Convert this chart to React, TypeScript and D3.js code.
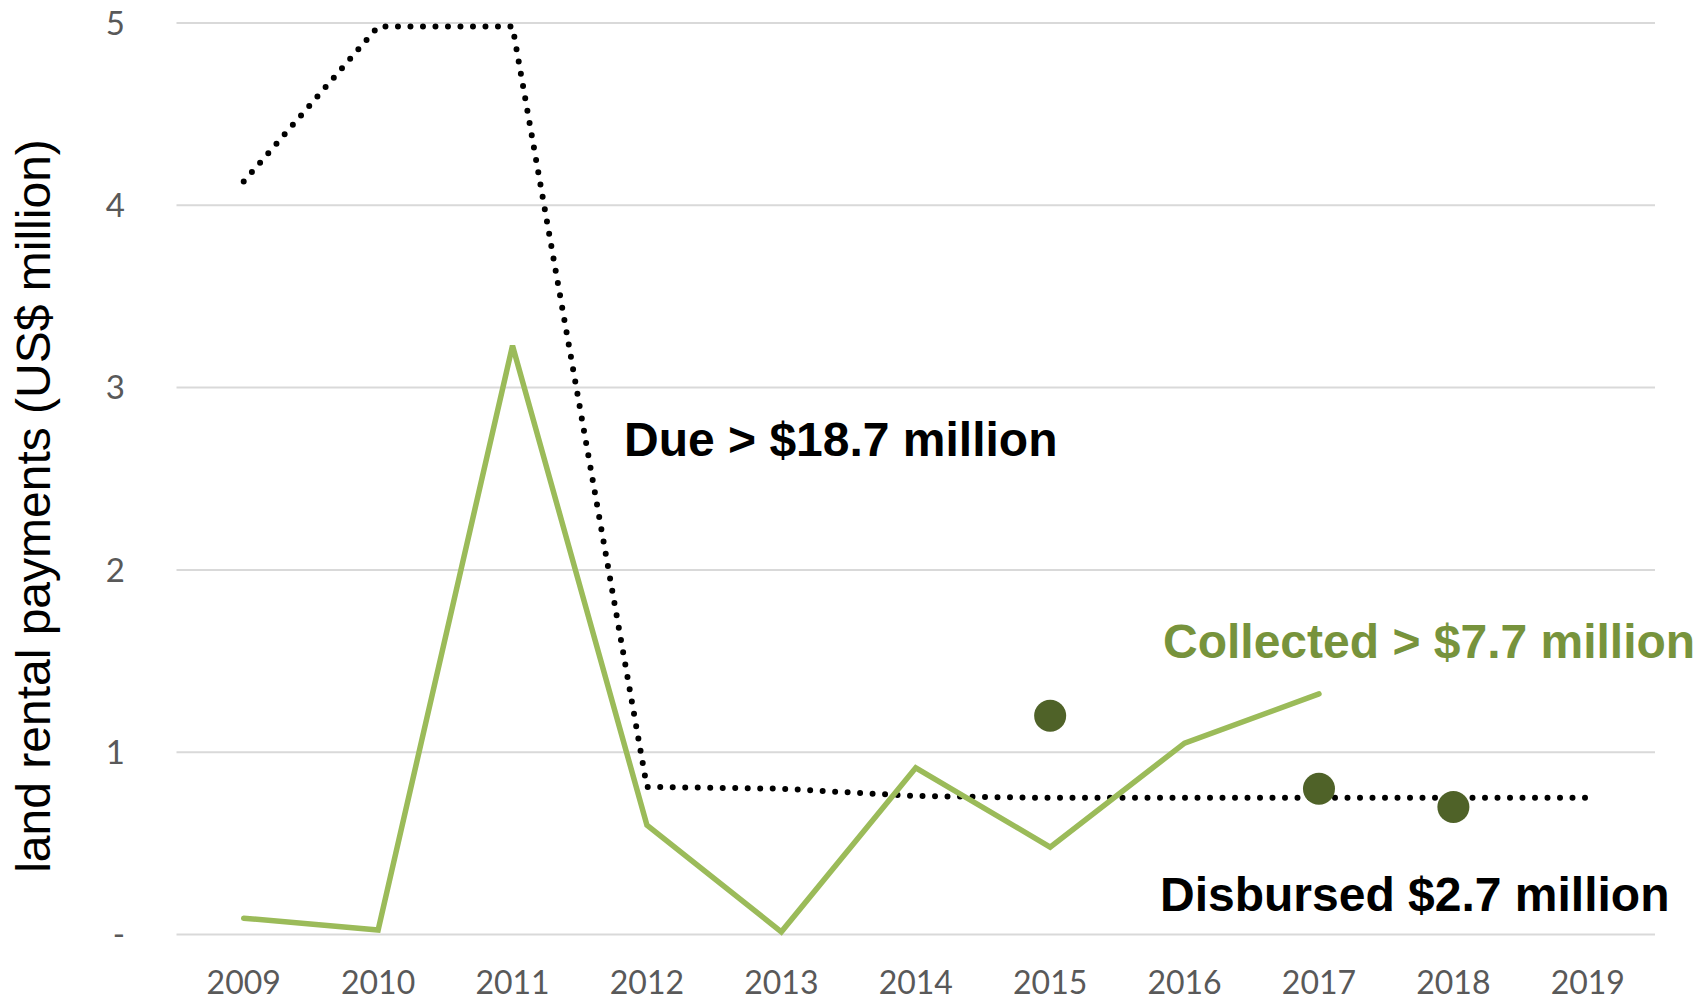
import React from "react";
import * as d3 from "d3";

const years = ["2009", "2010", "2011", "2012", "2013", "2014", "2015", "2016", "2017", "2018", "2019"];
const dueValues = [4.13, 4.98, 4.98, 0.81, 0.8, 0.76, 0.75, 0.75, 0.75, 0.75, 0.75];
const collectedYears = ["2009", "2010", "2011", "2012", "2013", "2014", "2015", "2016", "2017"];
const collectedValues = [0.09, 0.025, 3.23, 0.6, 0.015, 0.915, 0.48, 1.05, 1.32];
const disbursedYears = ["2015", "2017", "2018"];
const disbursedValues = [1.2, 0.8, 0.7];
const yTicks = [0, 1, 2, 3, 4, 5];
const yTickLabels = ["-", "1", "2", "3", "4", "5"];

const W = 1708;
const H = 1001;

export default function App() {
  const x = d3.scaleBand<string>().domain(years).range([176.5, 1655]);
  const cx = (c: string) => (x(c) as number) + x.bandwidth() / 2;
  const y = d3.scaleLinear().domain([0, 5]).range([934.6, 22.9]);

  const dueLine = d3
    .line<number>()
    .x((_, i) => cx(years[i]))
    .y((d) => y(d))(dueValues) as string;
  const collLine = d3
    .line<number>()
    .x((_, i) => cx(collectedYears[i]))
    .y((d) => y(d))(collectedValues) as string;

  return (
    <svg
      width={W}
      height={H}
      style={{ position: "absolute", left: 0, top: 0, background: "#fff" }}
    >
      {yTicks.map((t) => (
        <line
          key={t}
          x1={176.5}
          x2={1655}
          y1={y(t)}
          y2={y(t)}
          stroke="#d9d9d9"
          strokeWidth={2}
        />
      ))}
      {yTicks.map((t, i) => (
        <text
          key={"yl" + t}
          x={125}
          y={y(t)}
          dy="0.36em"
          textAnchor="end"
          fontFamily="Lato"
          fontSize={33}
          fill="#595959"
        >
          {yTickLabels[i]}
        </text>
      ))}
      {years.map((c) => (
        <text
          key={"xl" + c}
          x={cx(c)}
          y={994}
          textAnchor="middle"
          fontFamily="Lato"
          fontSize={32}
          fill="#595959"
        >
          {c}
        </text>
      ))}
      <text
        transform="translate(50,506) rotate(-90)"
        textAnchor="middle"
        fontFamily="Liberation Sans, Arial"
        fontSize={48}
        fill="#000"
      >
        land rental payments (US$ million)
      </text>
      <path
        d={dueLine}
        fill="none"
        stroke="#000"
        strokeWidth={6}
        strokeDasharray="0 12.5"
        strokeLinecap="round"
      />
      <path
        d={collLine}
        fill="none"
        stroke="#9bbb59"
        strokeWidth={5.5}
        strokeLinejoin="miter"
        strokeLinecap="round"
      />
      {disbursedValues.map((v, i) => (
        <circle key={"d" + i} cx={cx(disbursedYears[i])} cy={y(v)} r={16} fill="#4f6228" />
      ))}
      <text x={624} y={456} fontFamily="Liberation Sans, Arial" fontWeight="bold" fontSize={48} fill="#000">
        Due &gt; $18.7 million
      </text>
      <text x={1163} y={658} fontFamily="Liberation Sans, Arial" fontWeight="bold" fontSize={48} fill="#77933c">
        Collected &gt; $7.7 million
      </text>
      <text x={1160} y={911} fontFamily="Liberation Sans, Arial" fontWeight="bold" fontSize={48} fill="#000">
        Disbursed $2.7 million
      </text>
    </svg>
  );
}
